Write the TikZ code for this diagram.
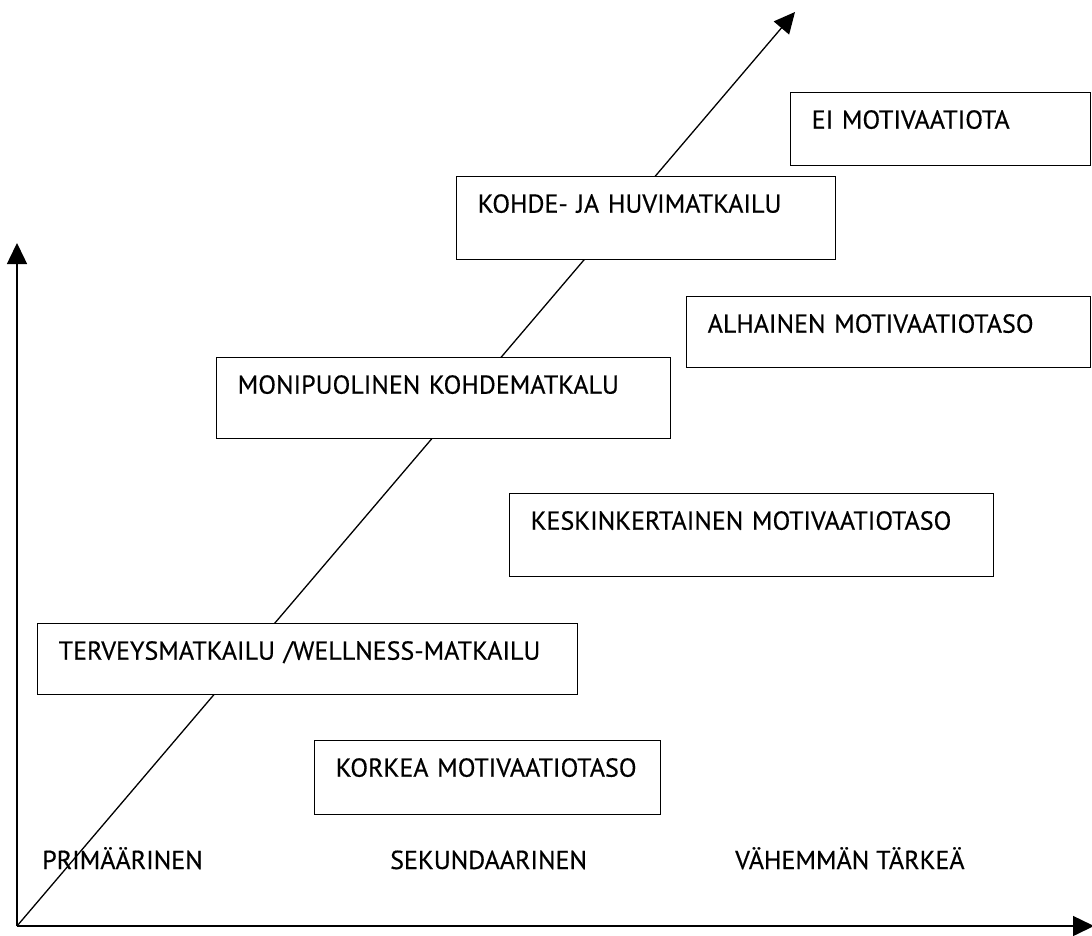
\documentclass[tikz,border=0pt]{standalone}
\usepackage{fontspec}
\setmainfont[FakeBold=0.4]{PT Sans}
\usetikzlibrary{arrows.meta}
\newcommand{\stagefont}{\fontsize{26}{30}\selectfont}
\tikzset{
  axis/.style={line width=1.5pt, -{Triangle[length=21pt,width=20pt]}},
  trend/.style={line width=1.3pt, -{Triangle[length=21pt,width=20pt]}},
  stage/.style={draw, line width=1.4pt, fill=white, anchor=north west,
    inner xsep=21pt, inner ysep=0pt, align=left, font=\stagefont,
    text height=36pt},
  importance/.style={anchor=base west, inner sep=0pt, font=\stagefont},
}
\begin{document}
\begin{tikzpicture}[x=1pt, y=-1pt]
  \useasboundingbox (0,0) rectangle (1092,935);
  % axes and the diagonal trend arrow
  \coordinate (origin) at (17,926);
  \coordinate (ytip) at (17,243);
  \coordinate (xtip) at (1094,926);
  \coordinate (dtip) at (795,12);
  \draw[axis] (origin) -- (ytip);
  \draw[axis] (origin) -- (xtip);
  \draw[trend] (origin) -- (dtip);
  % stages of travel motivation
  \node[stage, text width=258pt, text depth=37pt] (ei) at (790,92) {EI MOTIVAATIOTA};
  \node[stage, text width=337pt, text depth=47pt] (kohde) at (456,176) {KOHDE- JA HUVIMATKAILU};
  \node[stage, text width=362pt, text depth=35pt] (alhainen) at (686,296) {ALHAINEN MOTIVAATIOTASO};
  \node[stage, text width=412pt, text depth=45pt] (moni) at (216,357) {MONIPUOLINEN KOHDEMATKALU};
  \node[stage, text width=442pt, text depth=47pt] (keski) at (509,493) {KESKINKERTAINEN MOTIVAATIOTASO};
  \node[stage, text width=498pt, text depth=35pt] (terveys) at (37,623) {TERVEYSMATKAILU /WELLNESS-MATKAILU};
  \node[stage, text width=304pt, text depth=38pt] (korkea) at (314,740) {KORKEA MOTIVAATIOTASO};
  % importance levels along the horizontal axis
  \node[importance] (prim) at (42,869) {PRIMÄÄRINEN};
  \node[importance] (sek) at (390,869) {SEKUNDAARINEN};
  \node[importance] (vah) at (735,869) {VÄHEMMÄN TÄRKEÄ};
\end{tikzpicture}
\end{document}
